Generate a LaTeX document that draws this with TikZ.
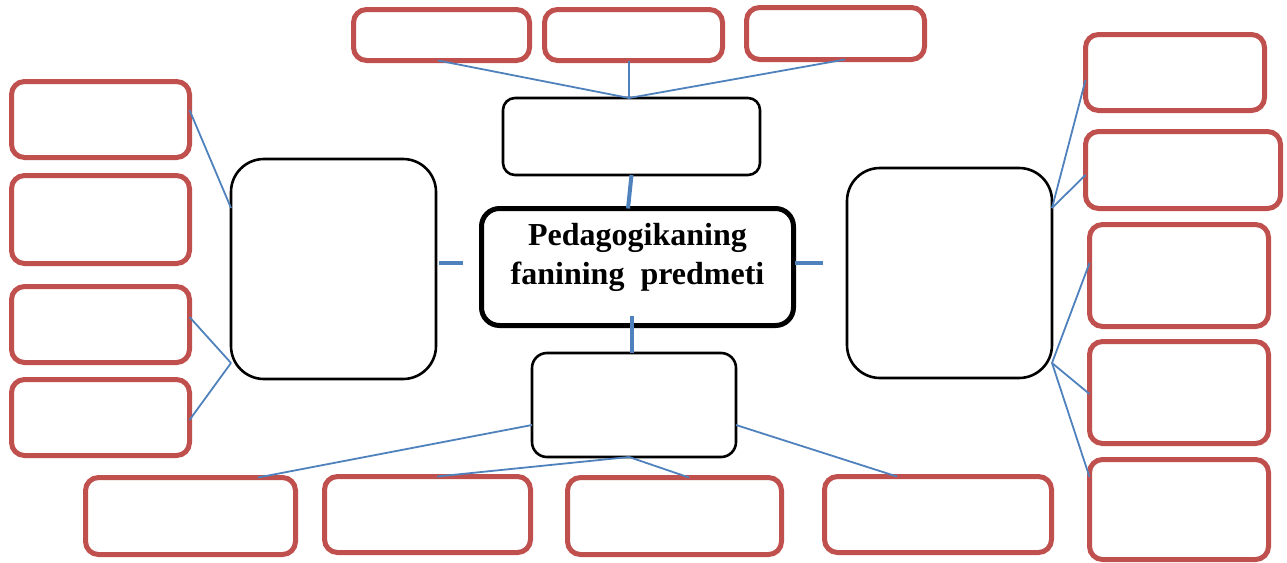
\documentclass[tikz,border=0pt]{standalone}
\usepackage{fontspec}
\setmainfont{Liberation Serif}
\usetikzlibrary{calc}
\definecolor{boxred}{HTML}{C0504D}
\definecolor{linkblue}{HTML}{4F81BD}
\begin{document}
\begin{tikzpicture}[x=1pt,y=-1pt,
  redbox/.style={draw=boxred,line width=5pt,rounded corners=13pt,inner sep=0pt,outer sep=0pt,fill=white},
  blackbox/.style={draw=black,line width=2.6pt,inner sep=0pt,outer sep=0pt,fill=white},
  centerbox/.style={draw=black,line width=5pt,rounded corners=18pt,inner sep=0pt,outer sep=0pt,fill=white},
  thin link/.style={draw=linkblue,line width=1.8pt},
  thick link/.style={draw=linkblue,line width=4pt}]
\useasboundingbox (0,0) rectangle (1287,562);
% central and black boxes
\node[centerbox,minimum width=312pt,minimum height=117pt] (C) at (637.5,267) {};
\node[font=\bfseries\fontsize{32}{39}\selectfont,align=center,inner sep=0pt] (Ctext) at (637.5,257) {Pedagogikaning\\fanining\ \ predmeti};
\node[blackbox,rounded corners=12pt,minimum width=257pt,minimum height=77pt] (TB) at (631.5,136.5) {};
\node[blackbox,rounded corners=33pt,minimum width=205pt,minimum height=220pt] (LB) at (333.5,269) {};
\node[blackbox,rounded corners=33pt,minimum width=205pt,minimum height=210pt] (RB) at (949.5,273) {};
\node[blackbox,rounded corners=15pt,minimum width=204pt,minimum height=104pt] (BB) at (634,405) {};
% red boxes
\node[redbox,minimum width=176pt,minimum height=51pt] (T1) at (441.5,35) {};
\node[redbox,minimum width=178pt,minimum height=51pt] (T2) at (633.5,35) {};
\node[redbox,minimum width=178pt,minimum height=52pt] (T3) at (835.5,33.5) {};
\node[redbox,minimum width=178pt,minimum height=76pt] (L1) at (100.5,119.5) {};
\node[redbox,minimum width=178pt,minimum height=88pt] (L2) at (100.5,219.5) {};
\node[redbox,minimum width=178pt,minimum height=76pt] (L3) at (100.5,324.5) {};
\node[redbox,minimum width=178pt,minimum height=76pt] (L4) at (100.5,417.5) {};
\node[redbox,minimum width=210pt,minimum height=77pt] (B1) at (190.5,516) {};
\node[redbox,minimum width=206pt,minimum height=76pt] (B2) at (427.5,514.5) {};
\node[redbox,minimum width=214pt,minimum height=77pt] (B3) at (674.5,516) {};
\node[redbox,minimum width=227pt,minimum height=76pt] (B4) at (938,514.5) {};
\node[redbox,minimum width=179pt,minimum height=76pt] (R1) at (1175,72.5) {};
\node[redbox,minimum width=195pt,minimum height=77pt] (R2) at (1183,170) {};
\node[redbox,minimum width=179pt,minimum height=102pt] (R3) at (1179,275.5) {};
\node[redbox,minimum width=179pt,minimum height=102pt] (R4) at (1179,392.5) {};
\node[redbox,minimum width=179pt,minimum height=100pt] (R5) at (1179,509.5) {};
% thick connectors
\draw[thick link] (TB.south) -- ([xshift=-9.5pt]C.north);
\draw[thick link] ([xshift=3pt,yshift=6pt]LB.east) -- ([xshift=-18.5pt,yshift=4pt]C.west);
\draw[thick link] ([xshift=1.5pt,yshift=4pt]C.east) -- ([xshift=-24pt,yshift=10pt]RB.west);
\draw[thick link] ([xshift=-5.5pt,yshift=9.5pt]C.south) -- ([xshift=-2pt]BB.north);
% thin connectors: top
\coordinate (TH) at ([xshift=-2.5pt]TB.north);
\draw[thin link] ([xshift=-3.5pt]T1.south) -- (TH);
\draw[thin link] ([xshift=-4.5pt]T2.south) -- (TH);
\draw[thin link] ([xshift=9.5pt]T3.south) -- (TH);
% left
\draw[thin link] ([yshift=9.5pt]L1.east) -- ([yshift=61pt]LB.west);
\draw[thin link] ([yshift=7.5pt]L3.east) -- ([yshift=-94pt]LB.west);
\draw[thin link] ([yshift=-2.5pt]L4.east) -- ([yshift=-94pt]LB.west);
% right
\draw[thin link] ([yshift=-7.5pt]R1.west) -- ([yshift=65pt]RB.east);
\draw[thin link] ([yshift=-5pt]R2.west) -- ([yshift=65pt]RB.east);
\draw[thin link] ([yshift=12.5pt]R3.west) -- ([yshift=-90pt]RB.east);
\draw[thin link] ([yshift=-1.5pt]R4.west) -- ([yshift=-90pt]RB.east);
\draw[thin link] ([yshift=32.5pt]R5.west) -- ([yshift=-90pt]RB.east);
% bottom
\draw[thin link] ([yshift=-20pt]BB.west) -- ([xshift=67.5pt]B1.north);
\draw[thin link] ([xshift=-5pt]BB.south) -- ([xshift=9.5pt]B2.north);
\draw[thin link] ([xshift=-5pt]BB.south) -- ([xshift=14.5pt]B3.north);
\draw[thin link] ([yshift=-20pt]BB.east) -- ([xshift=-41pt]B4.north);
\end{tikzpicture}
\end{document}
